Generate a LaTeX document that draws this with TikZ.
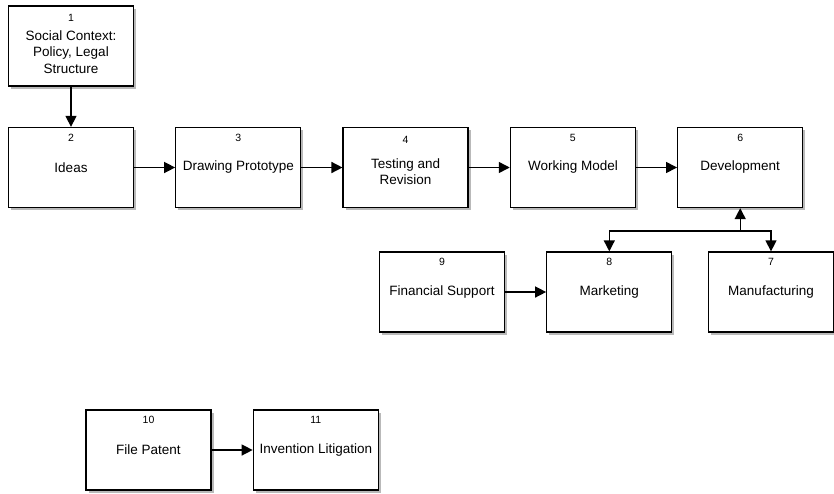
\documentclass[tikz,border=0pt]{standalone}
\usepackage{fontspec}
\setmainfont{Liberation Sans}
\usetikzlibrary{arrows.meta,positioning,shadows}

\tikzset{
  blk/.style={draw, line width=1.3pt, fill=white, minimum width=125pt, minimum height=80pt, inner sep=0pt,
    drop shadow={shadow xshift=2.5pt, shadow yshift=-2.5pt, fill=black!55}},
  num/.style={font=\fontsize{10.5}{12}\selectfont},
  lbl/.style={font=\fontsize{13.5}{16.5}\selectfont, align=center},
}

\begin{document}
\begin{tikzpicture}[x=1pt,y=-1pt,->,>={Triangle[length=11pt,width=11pt]},line width=1.4pt,node distance=41pt]
  \useasboundingbox (0,0) rectangle (834,493);
  % main line
  \node[blk] (b1) at (71,46) {};
  \node[blk] (b2) at (71,167.5) {};
  \node[blk,right=of b2] (b3) {};
  \node[blk,right=of b3] (b4) {};
  \node[blk,right=of b4] (b5) {};
  \node[blk,right=of b5] (b6) {};
  % second row
  \node[blk] (b9) at (442,292) {};
  \node[blk,right=of b9] (b8) {};
  \node[blk] (b7) at (771,292) {};
  % patents
  \node[blk] (b10) at (148.5,450) {};
  \node[blk,right=of b10] (b11) {};

  \node[num] (n1) at ([yshift=-13pt]b1.north) {1};
  \node[lbl] (t1) at ([yshift=-6pt]b1.center) {Social Context:\\Policy, Legal\\Structure};
  \node[num] (n2) at ([yshift=-11pt]b2.north) {2};
  \node[lbl] (t2) at (b2) {Ideas};
  \node[num] (n3) at ([yshift=-11pt]b3.north) {3};
  \node[lbl] (t3) at (b3) {Drawing Prototype};
  \node[num] (n4) at ([yshift=-13pt]b4.north) {4};
  \node[lbl] (t4) at ([yshift=-4pt]b4.center) {Testing and\\Revision};
  \node[num] (n5) at ([yshift=-11pt]b5.north) {5};
  \node[lbl] (t5) at (b5) {Working Model};
  \node[num] (n6) at ([yshift=-11pt]b6.north) {6};
  \node[lbl] (t6) at (b6) {Development};
  \node[num] (n7) at ([yshift=-11pt]b7.north) {7};
  \node[lbl] (t7) at (b7) {Manufacturing};
  \node[num] (n8) at ([yshift=-11pt]b8.north) {8};
  \node[lbl] (t8) at (b8) {Marketing};
  \node[num] (n9) at ([yshift=-11pt]b9.north) {9};
  \node[lbl] (t9) at (b9) {Financial Support};
  \node[num] (n10) at ([yshift=-11pt]b10.north) {10};
  \node[lbl] (t10) at (b10) {File Patent};
  \node[num] (n11) at ([yshift=-11pt]b11.north) {11};
  \node[lbl] (t11) at (b11) {Invention Litigation};

  \draw (b1) -- (b2);
  \draw (b2) -- (b3);
  \draw (b3) -- (b4);
  \draw (b4) -- (b5);
  \draw (b5) -- (b6);
  \draw (b9) -- (b8);
  \draw (b10) -- (b11);

  \coordinate (fork) at (b6.south |- 0,231);
  \draw (fork) -- (b6);
  \draw (fork) -| (b8);
  \draw (fork) -| (b7);
\end{tikzpicture}
\end{document}
